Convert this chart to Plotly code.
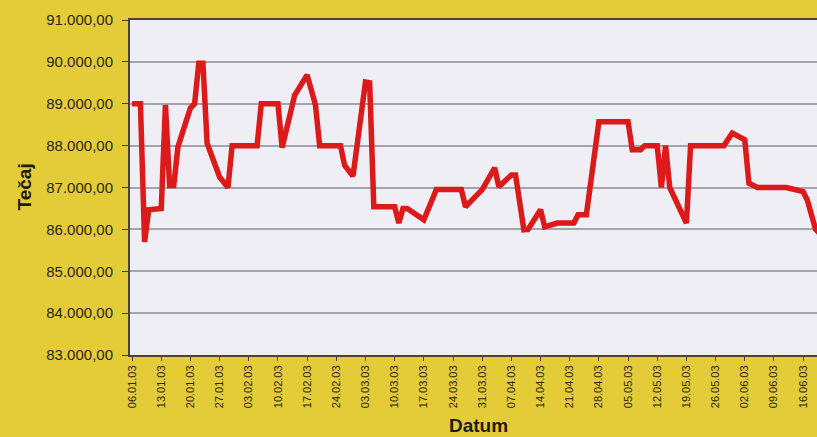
import plotly.graph_objects as go

dates = ["2003-01-06", "2003-01-08", "2003-01-09", "2003-01-10", "2003-01-13", "2003-01-14",
         "2003-01-15", "2003-01-16", "2003-01-17", "2003-01-20", "2003-01-21", "2003-01-22",
         "2003-01-23", "2003-01-24", "2003-01-27", "2003-01-29", "2003-01-30", "2003-02-05",
         "2003-02-06", "2003-02-10", "2003-02-11", "2003-02-14", "2003-02-17", "2003-02-19",
         "2003-02-20", "2003-02-25", "2003-02-26", "2003-02-28", "2003-03-03", "2003-03-04",
         "2003-03-05", "2003-03-10", "2003-03-11", "2003-03-12", "2003-03-13", "2003-03-17",
         "2003-03-20", "2003-03-26", "2003-03-27", "2003-03-31", "2003-04-03", "2003-04-04",
         "2003-04-07", "2003-04-08", "2003-04-10", "2003-04-11", "2003-04-14", "2003-04-15",
         "2003-04-18", "2003-04-22", "2003-04-23", "2003-04-25", "2003-04-28", "2003-05-05",
         "2003-05-06", "2003-05-08", "2003-05-09", "2003-05-12", "2003-05-13", "2003-05-14",
         "2003-05-15", "2003-05-19", "2003-05-20", "2003-05-28", "2003-05-30", "2003-06-02",
         "2003-06-03", "2003-06-05", "2003-06-12", "2003-06-16", "2003-06-17", "2003-06-19",
         "2003-06-20"]
tecaj = [89000, 89000, 85700, 86470, 86500, 88970,
         87050, 87050, 87970, 88900, 89000, 89970,
         89970, 88060, 87250, 87000, 88000, 88000,
         89000, 89000, 87950, 89200, 89690, 88970,
         88000, 88000, 87530, 87270, 89520, 89500,
         86540, 86540, 86150, 86500, 86500, 86230,
         86950, 86950, 86540, 86950, 87470, 87020,
         87300, 87300, 85990, 86000, 86470, 86060,
         86150, 86150, 86350, 86350, 88570, 88570,
         87900, 87900, 88000, 88000, 87000, 88000,
         87000, 86150, 88000, 88000, 88300, 88140,
         87100, 87000, 87000, 86900, 86700, 86000,
         85900]

tick_dates = ["2003-01-06", "2003-01-13", "2003-01-20", "2003-01-27", "2003-02-03", "2003-02-10",
              "2003-02-17", "2003-02-24", "2003-03-03", "2003-03-10", "2003-03-17", "2003-03-24",
              "2003-03-31", "2003-04-07", "2003-04-14", "2003-04-21", "2003-04-28", "2003-05-05",
              "2003-05-12", "2003-05-19", "2003-05-26", "2003-06-02", "2003-06-09", "2003-06-16"]
y_ticks = [83000, 84000, 85000, 86000, 87000, 88000, 89000, 90000, 91000]

text_col = "#2b2812"
axis_col = "#4a4432"

fig = go.Figure()
fig.add_trace(go.Scatter(x=dates, y=tecaj, mode="lines",
                         line=dict(color="#dd1a1a", width=5.5), showlegend=False))

fig.update_layout(
    width=817, height=437,
    margin=dict(l=130, r=0, t=20, b=82),
    paper_bgcolor="#e4cb38",
    plot_bgcolor="#eeeef4",
    separators=",.",
    font=dict(family="Liberation Sans, Arial, sans-serif", color=text_col),
    xaxis=dict(
        type="date",
        automargin=False,
        range=["2003-01-05 12:00", "2003-06-19 08:00"],
        tickvals=tick_dates,
        tickformat="%d.%m.%y",
        tickangle=-90,
        tickfont=dict(size=11, color=text_col),
        showgrid=False,
        showline=True, linecolor=axis_col, linewidth=2, mirror=True,
        ticks="outside", ticklen=4, tickcolor=axis_col,
        zeroline=False,
    ),
    yaxis=dict(
        automargin=False,
        range=[83000, 91000],
        tickvals=y_ticks,
        tickformat=",.2f",
        tickfont=dict(size=15, color=text_col),
        showgrid=True, gridcolor="#a4a4ae", gridwidth=1.5,
        showline=True, linecolor=axis_col, linewidth=2, mirror=True,
        ticks="outside", ticklen=6, tickcolor=axis_col,
        ticklabelstandoff=6,
        zeroline=False,
    ),
    annotations=[
        dict(text="<b>Tečaj</b>", xref="paper", yref="paper",
             x=(24 - 130) / 687, y=0.5, textangle=-90, showarrow=False,
             font=dict(size=19, color="#1e1c10"), xanchor="center", yanchor="middle"),
        dict(text="<b>Datum</b>", xref="paper", yref="paper",
             x=(478 - 130) / 687, y=-(425 - 355) / 335, showarrow=False,
             font=dict(size=19, color="#1e1c10"), xanchor="center", yanchor="middle"),
    ],
)

fig.write_html(
    "out.html",
    config={"responsive": False, "displayModeBar": False},
    post_script="document.body.style.margin='0';document.body.style.overflow='hidden';",
)
